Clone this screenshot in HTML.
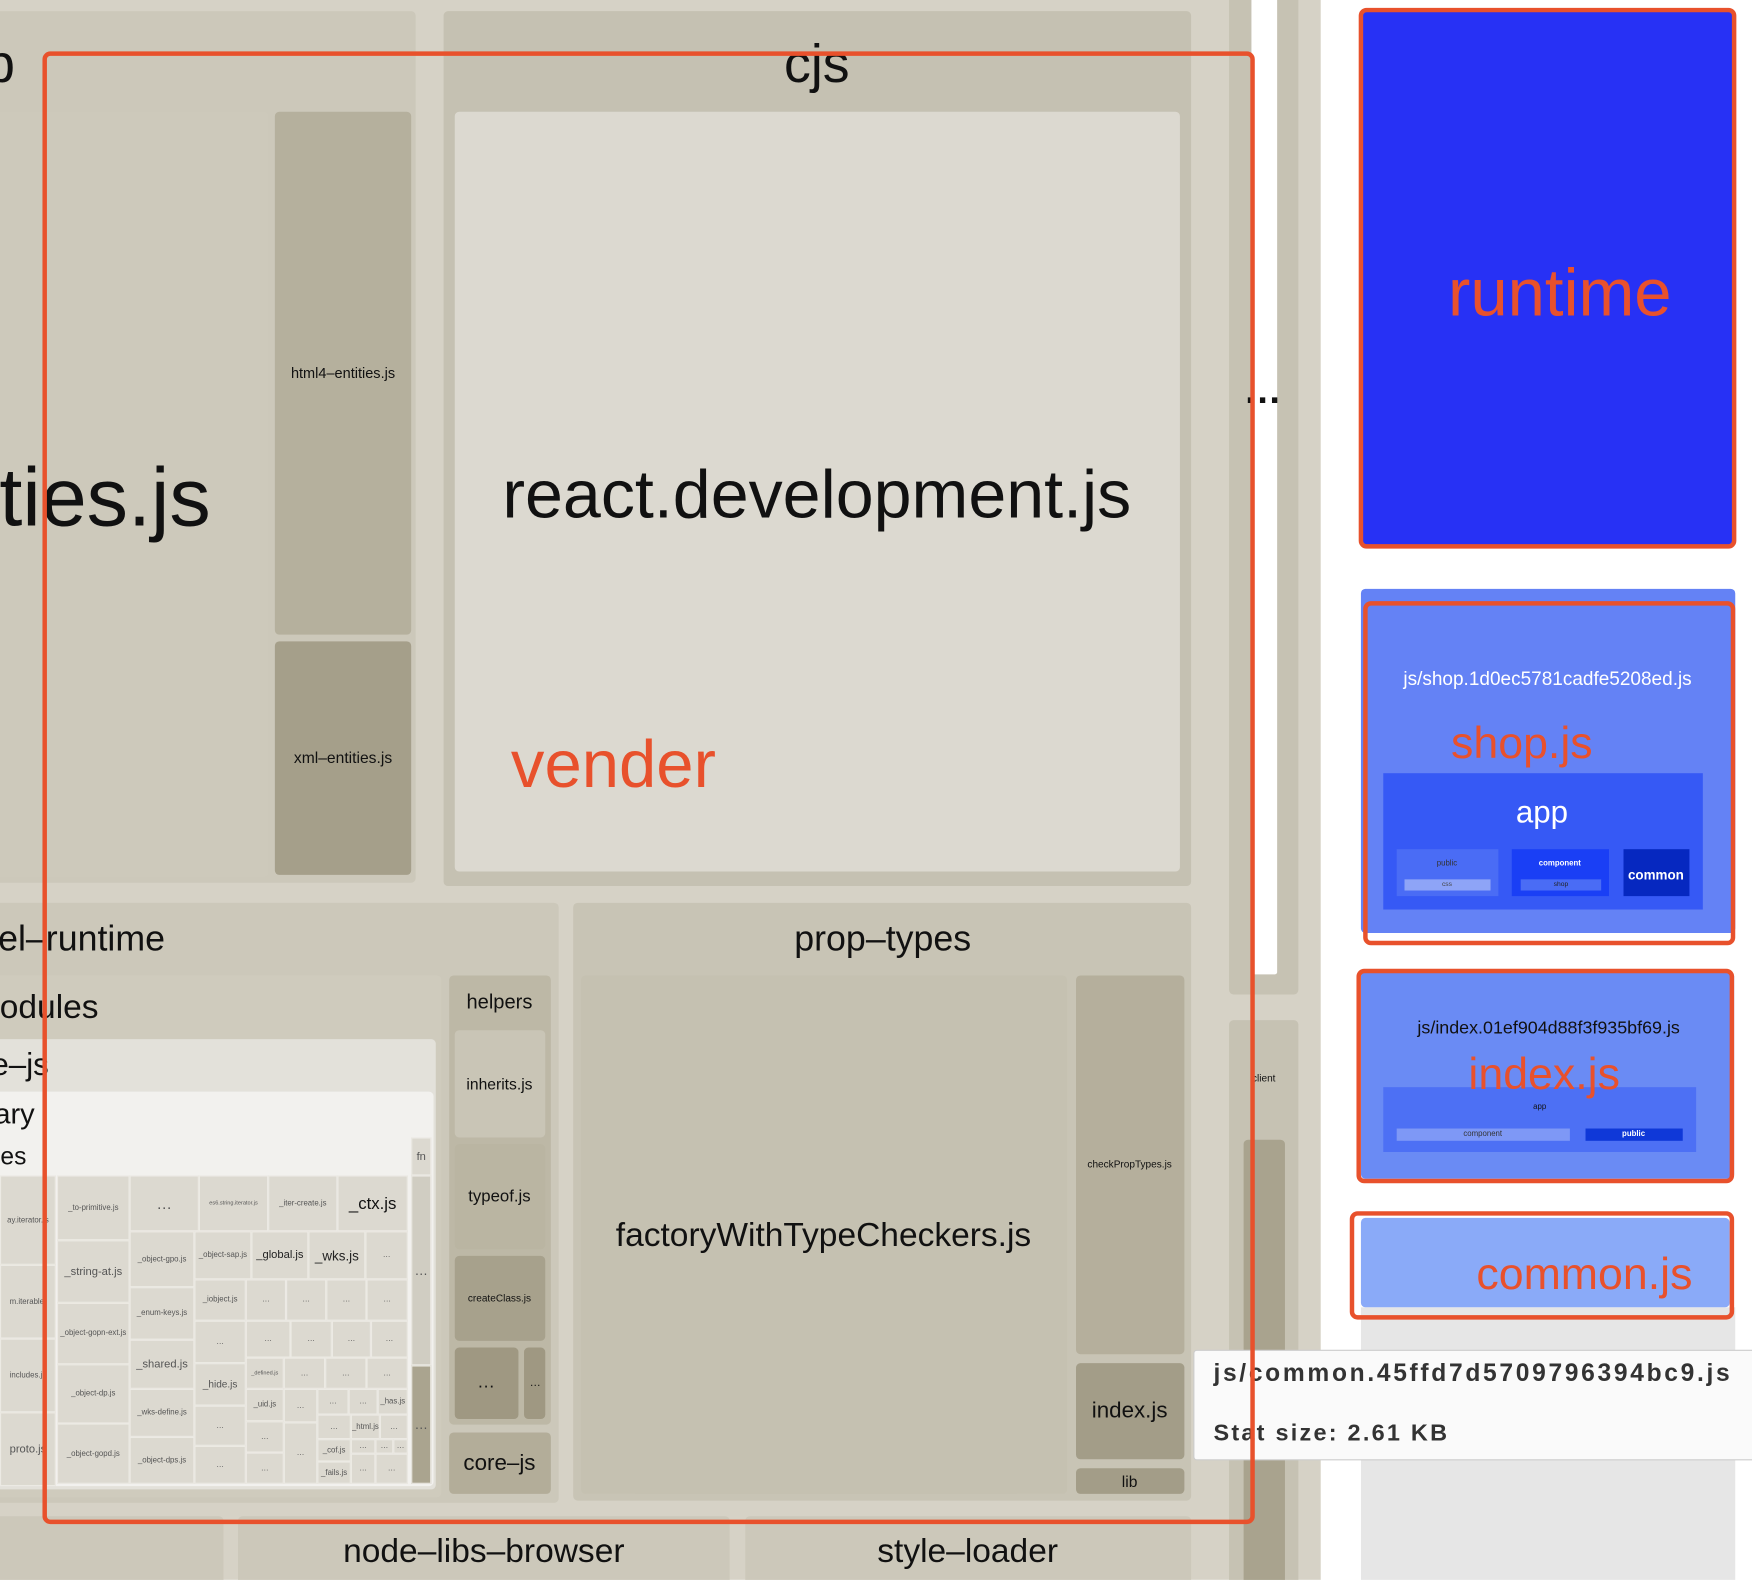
<!DOCTYPE html>
<html><head><meta charset="utf-8"><style>
body{margin:0;width:1752px;height:1580px;overflow:hidden;background:#fff;font-family:"Liberation Sans",sans-serif}
#s{position:absolute;left:0;top:0;width:1568px;height:1414px;transform:scale(1.11735);transform-origin:0 0;overflow:hidden}
.b{position:absolute;box-sizing:border-box;border-radius:4px}
.t{position:absolute;white-space:nowrap;transform:translate(-50%,-50%);color:#111}
.c{position:absolute;box-sizing:border-box;background:#dcd9d0;border:1px solid #eceae4;font-size:7px;color:#555;display:flex;align-items:center;justify-content:center;overflow:hidden;white-space:nowrap}
.r{position:absolute;box-sizing:border-box;border:4px solid #e8512c;border-radius:7px}
.rt{position:absolute;color:#e8512c;white-space:nowrap;transform:translate(-50%,-50%)}
</style></head><body><div id="s">
<div class="b" style="left:0;top:0;width:1182px;height:1414px;background:#d6d2c6;border-radius:0"></div>
<!-- top-left -->
<div class="b" style="left:-10px;top:10px;width:382px;height:780px;background:#ccc8ba"></div>
<div class="t" style="left:0;top:58px;font-size:48px">b</div>
<div class="b" style="left:-10px;top:100px;width:250px;height:685px;background:#cdc9bb"></div>
<div class="t" style="left:94px;top:445px;font-size:74px">ties.js</div>
<div class="b" style="left:246px;top:100px;width:122px;height:468px;background:#b5b09d"></div>
<div class="t" style="left:307px;top:334px;font-size:13px">html4–entities.js</div>
<div class="b" style="left:246px;top:574px;width:122px;height:209px;background:#a59f8a"></div>
<div class="t" style="left:307px;top:678px;font-size:14px">xml–entities.js</div>
<!-- cjs -->
<div class="b" style="left:397px;top:10px;width:669px;height:783px;background:#c5c1b2"></div>
<div class="t" style="left:731px;top:58px;font-size:48px">cjs</div>
<div class="b" style="left:407px;top:100px;width:649px;height:680px;background:#dcd9d0"></div>
<div class="t" style="left:731px;top:442px;font-size:61px">react.development.js</div>
<div class="rt" style="left:549px;top:684px;font-size:60px">vender</div>
<!-- el-runtime -->
<div class="b" style="left:-10px;top:808px;width:510px;height:537px;background:#ccc8ba"></div>
<div class="t" style="left:73px;top:840px;font-size:32px">el–runtime</div>
<div class="b" style="left:-10px;top:873px;width:405px;height:467px;background:#cfcbbd"></div>
<div class="t" style="left:44px;top:902px;font-size:30px">odules</div>
<div class="b" style="left:-10px;top:930px;width:400px;height:403px;background:#e3e1da"></div>
<div class="t" style="left:18px;top:953px;font-size:28px">e–js</div>
<div class="b" style="left:-10px;top:977px;width:398px;height:353px;background:#f2f1ee"></div>
<div class="t" style="left:13px;top:997px;font-size:26px">ary</div>
<div class="t" style="left:12px;top:1035px;font-size:22px">es</div>
<div class="c" style="left:368px;top:1018px;width:18px;height:34px;font-size:10px">fn</div>
<div class="c" style="left:368px;top:1052px;width:18px;height:170px;font-size:12px;background:#d0cdc2">…</div>
<div class="c" style="left:368px;top:1222px;width:18px;height:106px;font-size:12px;background:#aaa48f">…</div>
<div class="c" style="left:0;top:1052px;width:50px;height:80px">ay.iterator.js</div>
<div class="c" style="left:0;top:1132px;width:50px;height:66px">m.iterable.</div>
<div class="c" style="left:0;top:1198px;width:50px;height:66px">includes.js</div>
<div class="c" style="left:0;top:1264px;width:50px;height:66px;font-size:10px">proto.js</div>
<div class="c" style="left:51px;top:1052px;width:65px;height:58px">_to-primitive.js</div>
<div class="c" style="left:51px;top:1110px;width:65px;height:56px;font-size:10px">_string-at.js</div>
<div class="c" style="left:51px;top:1166px;width:65px;height:55px">_object-gopn-ext.js</div>
<div class="c" style="left:51px;top:1221px;width:65px;height:53px">_object-dp.js</div>
<div class="c" style="left:51px;top:1274px;width:65px;height:54px">_object-gopd.js</div>
<div class="c" style="left:116px;top:1052px;width:62px;height:50px;font-size:14px">…</div>
<div class="c" style="left:116px;top:1102px;width:58px;height:50px">_object-gpo.js</div>
<div class="c" style="left:116px;top:1152px;width:58px;height:47px">_enum-keys.js</div>
<div class="c" style="left:116px;top:1199px;width:58px;height:44px;font-size:10px">_shared.js</div>
<div class="c" style="left:116px;top:1243px;width:58px;height:43px">_wks-define.js</div>
<div class="c" style="left:116px;top:1286px;width:58px;height:42px">_object-dps.js</div>
<div class="c" style="left:178px;top:1052px;width:62px;height:50px;font-size:5px">es6.string.iterator.js</div>
<div class="c" style="left:240px;top:1052px;width:62px;height:50px">_iter-create.js</div>
<div class="c" style="left:302px;top:1052px;width:63px;height:50px;font-size:15px;color:#111">_ctx.js</div>
<div class="c" style="left:174px;top:1102px;width:51px;height:43px">_object-sap.js</div>
<div class="c" style="left:225px;top:1102px;width:51px;height:43px;font-size:10px;color:#222">_global.js</div>
<div class="c" style="left:276px;top:1102px;width:51px;height:43px;font-size:12px;color:#222">_wks.js</div>
<div class="c" style="left:327px;top:1102px;width:38px;height:43px">…</div>
<div class="c" style="left:174px;top:1145px;width:46px;height:37px">_iobject.js</div>
<div class="c" style="left:220px;top:1145px;width:36px;height:37px">…</div>
<div class="c" style="left:256px;top:1145px;width:36px;height:37px">…</div>
<div class="c" style="left:292px;top:1145px;width:36px;height:37px">…</div>
<div class="c" style="left:328px;top:1145px;width:37px;height:37px">…</div>
<div class="c" style="left:174px;top:1182px;width:46px;height:38px">…</div>
<div class="c" style="left:220px;top:1182px;width:40px;height:33px">…</div>
<div class="c" style="left:260px;top:1182px;width:37px;height:33px">…</div>
<div class="c" style="left:297px;top:1182px;width:35px;height:33px">…</div>
<div class="c" style="left:332px;top:1182px;width:33px;height:33px">…</div>
<div class="c" style="left:174px;top:1220px;width:46px;height:38px;font-size:9px">_hide.js</div>
<div class="c" style="left:220px;top:1215px;width:34px;height:28px;font-size:5px">_defined.js</div>
<div class="c" style="left:254px;top:1215px;width:37px;height:28px">…</div>
<div class="c" style="left:291px;top:1215px;width:37px;height:28px">…</div>
<div class="c" style="left:328px;top:1215px;width:37px;height:28px">…</div>
<div class="c" style="left:174px;top:1258px;width:46px;height:36px">…</div>
<div class="c" style="left:174px;top:1294px;width:46px;height:34px">…</div>
<div class="c" style="left:220px;top:1243px;width:34px;height:29px">_uid.js</div>
<div class="c" style="left:220px;top:1272px;width:34px;height:28px">…</div>
<div class="c" style="left:220px;top:1300px;width:34px;height:28px">…</div>
<div class="c" style="left:254px;top:1243px;width:30px;height:30px">…</div>
<div class="c" style="left:254px;top:1273px;width:30px;height:55px">…</div>
<div class="c" style="left:284px;top:1243px;width:28px;height:23px">…</div>
<div class="c" style="left:312px;top:1243px;width:26px;height:23px">…</div>
<div class="c" style="left:338px;top:1243px;width:27px;height:23px">_has.js</div>
<div class="c" style="left:284px;top:1266px;width:30px;height:22px">…</div>
<div class="c" style="left:314px;top:1266px;width:26px;height:22px">_html.js</div>
<div class="c" style="left:340px;top:1266px;width:25px;height:22px">…</div>
<div class="c" style="left:284px;top:1288px;width:30px;height:20px">_cof.js</div>
<div class="c" style="left:284px;top:1308px;width:30px;height:20px">_fails.js</div>
<div class="c" style="left:314px;top:1288px;width:22px;height:13px">…</div>
<div class="c" style="left:336px;top:1288px;width:16px;height:13px">…</div>
<div class="c" style="left:352px;top:1288px;width:13px;height:13px">…</div>
<div class="c" style="left:314px;top:1301px;width:22px;height:27px">…</div>
<div class="c" style="left:336px;top:1301px;width:29px;height:27px">…</div>
<!-- helpers -->
<div class="b" style="left:402px;top:873px;width:91px;height:402px;background:#bdb8a6"></div>
<div class="t" style="left:447px;top:897px;font-size:18px">helpers</div>
<div class="b" style="left:407px;top:922px;width:81px;height:96px;background:#c9c5b6"></div>
<div class="t" style="left:447px;top:970px;font-size:14px">inherits.js</div>
<div class="b" style="left:407px;top:1024px;width:81px;height:94px;background:#bab5a2"></div>
<div class="t" style="left:447px;top:1071px;font-size:15px">typeof.js</div>
<div class="b" style="left:407px;top:1124px;width:81px;height:76px;background:#a7a18c"></div>
<div class="t" style="left:447px;top:1162px;font-size:9px">createClass.js</div>
<div class="b" style="left:407px;top:1206px;width:57px;height:64px;background:#9f9882"></div>
<div class="t" style="left:435px;top:1238px;font-size:16px">…</div>
<div class="b" style="left:469px;top:1206px;width:19px;height:64px;background:#9f9882"></div>
<div class="t" style="left:479px;top:1238px;font-size:10px">…</div>
<div class="b" style="left:402px;top:1282px;width:91px;height:55px;background:#b3ad99"></div>
<div class="t" style="left:447px;top:1310px;font-size:20px">core–js</div>
<!-- prop-types -->
<div class="b" style="left:513px;top:808px;width:553px;height:535px;background:#c8c4b5"></div>
<div class="t" style="left:790px;top:840px;font-size:32px">prop–types</div>
<div class="b" style="left:520px;top:873px;width:435px;height:464px;background:#c5c1b1"></div>
<div class="t" style="left:737px;top:1106px;font-size:30px">factoryWithTypeCheckers.js</div>
<div class="b" style="left:963px;top:873px;width:97px;height:339px;background:#b5af9c"></div>
<div class="t" style="left:1011px;top:1042px;font-size:9px">checkPropTypes.js</div>
<div class="b" style="left:963px;top:1220px;width:97px;height:86px;background:#a39d88"></div>
<div class="t" style="left:1011px;top:1263px;font-size:20px">index.js</div>
<div class="b" style="left:963px;top:1314px;width:97px;height:23px;background:#a39d88"></div>
<div class="t" style="left:1011px;top:1326px;font-size:14px">lib</div>
<!-- bottom row -->
<div class="b" style="left:-10px;top:1357px;width:210px;height:70px;background:#ccc8ba"></div>
<div class="b" style="left:213px;top:1357px;width:440px;height:70px;background:#ccc8ba"></div>
<div class="t" style="left:433px;top:1389px;font-size:30px">node–libs–browser</div>
<div class="b" style="left:667px;top:1357px;width:399px;height:70px;background:#ccc8ba"></div>
<div class="t" style="left:866px;top:1389px;font-size:30px">style–loader</div>
<!-- right column -->
<div class="b" style="left:1100px;top:-10px;width:62px;height:900px;background:#c6c2b3"></div>
<div class="b" style="left:1120px;top:-10px;width:23px;height:882px;background:#fff;border-radius:2px"></div>
<div class="t" style="left:1131px;top:350px;font-size:34px;font-weight:bold;letter-spacing:2px">…</div>
<div class="b" style="left:1100px;top:913px;width:62px;height:520px;background:#c6c2b3"></div>
<div class="t" style="left:1131px;top:965px;font-size:9px">client</div>
<div class="b" style="left:1113px;top:1020px;width:37px;height:410px;background:#a9a38e"></div>
<!-- right panel -->
<div class="b" style="left:1218px;top:8px;width:334px;height:482px;background:#2731f5"></div>
<div class="r" style="left:1216px;top:7px;width:338px;height:484px"></div>
<div class="rt" style="left:1396px;top:262px;font-size:60px">runtime</div>
<div class="b" style="left:1218px;top:527px;width:335px;height:308px;background:#6482f5"></div>
<div class="t" style="left:1385px;top:608px;font-size:17px;color:#fff">js/shop.1d0ec5781cadfe5208ed.js</div>
<div class="rt" style="left:1362px;top:666px;font-size:40px">shop.js</div>
<div class="b" style="left:1238px;top:692px;width:286px;height:122px;background:#3659f5;border-radius:0"></div>
<div class="t" style="left:1380px;top:727px;font-size:28px;color:#fff">app</div>
<div class="b" style="left:1250px;top:760px;width:91px;height:42px;background:#4a6cf5;border-radius:0"></div>
<div class="t" style="left:1295px;top:773px;font-size:7px;color:#333">public</div>
<div class="b" style="left:1257px;top:787px;width:77px;height:10px;background:#8ea4f7;border-radius:0"></div>
<div class="t" style="left:1295px;top:792px;font-size:6px;color:#444">css</div>
<div class="b" style="left:1353px;top:760px;width:87px;height:42px;background:#1a3ff5;border-radius:0"></div>
<div class="t" style="left:1396px;top:773px;font-size:7px;color:#fff;font-weight:bold">component</div>
<div class="b" style="left:1361px;top:787px;width:72px;height:10px;background:#4a6cf5;border-radius:0"></div>
<div class="t" style="left:1397px;top:792px;font-size:6px;color:#222">shop</div>
<div class="b" style="left:1453px;top:760px;width:59px;height:42px;background:#0628c0;border-radius:0"></div>
<div class="t" style="left:1482px;top:783px;font-size:12px;color:#fff;font-weight:bold">common</div>
<div class="r" style="left:1220px;top:538px;width:333px;height:308px"></div>
<div class="b" style="left:1218px;top:870px;width:334px;height:185px;background:#6a8bf4"></div>
<div class="t" style="left:1386px;top:921px;font-size:16px">js/index.01ef904d88f3f935bf69.js</div>
<div class="b" style="left:1238px;top:973px;width:280px;height:58px;background:#4d70f4;border-radius:0"></div>
<div class="t" style="left:1378px;top:991px;font-size:7px">app</div>
<div class="b" style="left:1250px;top:1010px;width:155px;height:11px;background:#7e98f6;border-radius:0"></div>
<div class="t" style="left:1327px;top:1015px;font-size:7px;color:#333">component</div>
<div class="b" style="left:1419px;top:1010px;width:87px;height:11px;background:#0f38d8;border-radius:0"></div>
<div class="t" style="left:1462px;top:1015px;font-size:7px;color:#fff;font-weight:bold">public</div>
<div class="rt" style="left:1382px;top:962px;font-size:40px">index.js</div>
<div class="r" style="left:1214px;top:867px;width:338px;height:192px"></div>
<div class="b" style="left:1218px;top:1170px;width:335px;height:260px;background:#e6e6e6;border-radius:0"></div>
<div class="b" style="left:1218px;top:1090px;width:330px;height:80px;background:#8aaaf8"></div>
<div class="r" style="left:1208px;top:1084px;width:344px;height:97px"></div>
<div class="rt" style="left:1418px;top:1141px;font-size:40px">common.js</div>
<!-- tooltip -->
<div class="b" style="left:1068px;top:1208px;width:510px;height:99px;background:#fafafa;border:1px solid #ccc;border-radius:3px"></div>
<div style="position:absolute;left:1086px;top:1216px;font-size:22px;font-weight:bold;color:#333;white-space:nowrap;letter-spacing:2.4px">js/common.45ffd7d5709796394bc9.js</div>
<div style="position:absolute;left:1086px;top:1271px;font-size:21px;font-weight:bold;color:#333;white-space:nowrap;letter-spacing:2px">Stat size: 2.61 KB</div>
<!-- big red -->
<div class="r" style="left:38px;top:46px;width:1085px;height:1318px"></div>
</div></body></html>
